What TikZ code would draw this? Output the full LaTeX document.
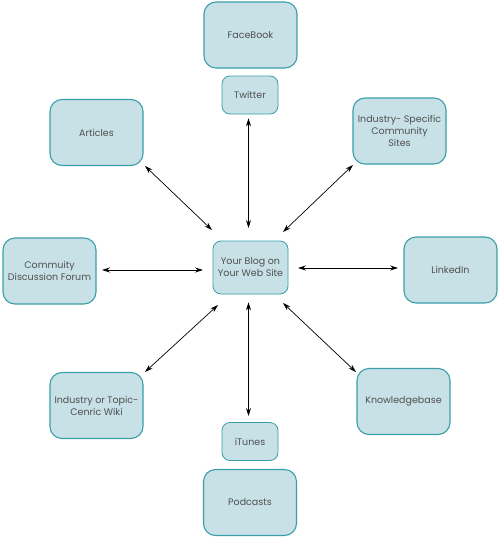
\documentclass[tikz,border=0pt]{standalone}
\usepackage{fontspec}
\setmainfont{Poppins}
\usetikzlibrary{arrows.meta}
\definecolor{boxfill}{HTML}{C7E1E6}
\definecolor{boxdraw}{HTML}{3A9EA8}
\definecolor{txt}{HTML}{505050}
\begin{document}
\begin{tikzpicture}[x=1pt,y=-1pt,
  bigbox/.style={draw=boxdraw, fill=boxfill, line width=1.1pt, rounded corners=12pt,
    minimum width=93pt, minimum height=66pt, align=center, text=txt,
    font=\fontsize{9.5}{12}\selectfont, inner sep=2pt},
  smallbox/.style={draw=boxdraw, fill=boxfill, line width=0.8pt, rounded corners=8pt,
    minimum width=56pt, minimum height=38pt, align=center, text=txt,
    font=\fontsize{9.5}{12}\selectfont, inner sep=2pt},
  centerbox/.style={smallbox, minimum width=75pt, minimum height=53pt},
  link/.style={{Stealth[length=8pt,width=5pt]}-{Stealth[length=8pt,width=5pt]}, line width=0.7pt, black}]
\useasboundingbox (0,0) rectangle (500,538);
\node[bigbox] (fb) at (250.5,35) {FaceBook};
\node[smallbox] (tw) at (250,95) {Twitter};
\node[bigbox] (art) at (96.5,132.5) {Articles};
\node[bigbox] (ind) at (399.5,131) {Industry- Specific\\Community\\Sites};
\node[centerbox] (blog) at (250.5,267.5) {Your Blog on\\Your Web Site};
\node[bigbox] (forum) at (49.5,271) {Commuity\\Discussion Forum};
\node[bigbox] (li) at (450.5,270) {LinkedIn};
\node[bigbox] (wiki) at (96.5,405.5) {Industry or Topic-\\Cenric Wiki};
\node[bigbox] (kb) at (403.5,401.5) {Knowledgebase};
\node[smallbox] (it) at (250,441.5) {iTunes};
\node[bigbox] (pod) at (250,502.5) {Podcasts};
\draw[link] (tw.south) ++(-1.5,4) coordinate (a1) -- (248.5,228) coordinate (a2);
\draw[link] (blog.south) ++(-2,8) coordinate (b1) -- (248.5,416) coordinate (b2);
\draw[link] (145,166) coordinate (c1) -- (212,230) coordinate (c2);
\draw[link] (353,165) coordinate (d1) -- (283,232) coordinate (d2);
\draw[link] (102,270) coordinate (e1) -- (203,270) coordinate (e2);
\draw[link] (298,268) coordinate (f1) -- (398,268) coordinate (f2);
\draw[link] (145,372) coordinate (g1) -- (218,305) coordinate (g2);
\draw[link] (283,303) coordinate (h1) -- (356,372) coordinate (h2);
\end{tikzpicture}
\end{document}
